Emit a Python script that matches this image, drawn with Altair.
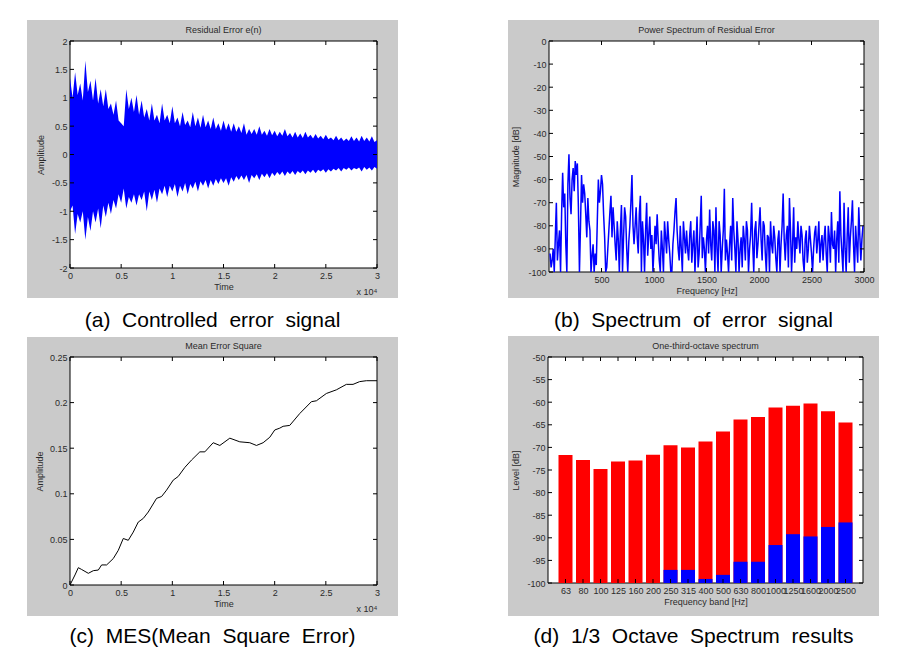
import json
import altair as alt
import pandas as pd

# ---------------- data ----------------
# (a) residual error e(n): spike envelope (every 500 samples) and the
#     dense core between spikes (at the midpoints)
sig_t = [0, 500, 1000, 1500, 2000, 2500, 3000, 3500, 4000, 4500,
         5000, 5500, 6000, 6500, 7000, 7500, 8000, 8500, 9000, 9500,
         10000, 10500, 11000, 11500, 12000, 12500, 13000, 13500, 14000, 14500,
         15000, 15500, 16000, 16500, 17000, 17500, 18000, 18500, 19000, 19500,
         20000, 20500, 21000, 21500, 22000, 22500, 23000, 23500, 24000, 24500,
         25000, 25500, 26000, 26500, 27000, 27500, 28000, 28500, 29000, 29500,
         30000]
sig_upper = [1.35, 1.45, 1.25, 1.65, 1.3, 1.35, 1.15, 1.15, 0.9, 0.95,
             0.55, 1.15, 1.0, 1.05, 0.95, 0.8, 0.9, 0.7, 0.9, 0.7,
             0.85, 0.65, 0.75, 0.6, 0.75, 0.65, 0.7, 0.6, 0.65, 0.55,
             0.6, 0.55, 0.55, 0.5, 0.55, 0.45, 0.45, 0.5, 0.42, 0.45,
             0.42, 0.4, 0.45, 0.38, 0.4, 0.37, 0.4, 0.35, 0.36, 0.33,
             0.35, 0.3, 0.33, 0.3, 0.28, 0.32, 0.3, 0.33, 0.3, 0.32,
             0.25]
sig_lower = [-1.0, -1.4, -1.2, -1.5, -1.35, -1.2, -1.3, -1.1, -1.05, -0.95,
             -0.85, -0.95, -0.85, -0.9, -0.8, -1.0, -0.8, -0.85, -0.7, -0.75,
             -0.65, -0.75, -0.65, -0.7, -0.6, -0.65, -0.55, -0.6, -0.55, -0.52,
             -0.5, -0.55, -0.48, -0.45, -0.45, -0.5, -0.42, -0.45, -0.4, -0.42,
             -0.38, -0.36, -0.38, -0.35, -0.36, -0.33, -0.35, -0.32, -0.33, -0.3,
             -0.32, -0.3, -0.28, -0.3, -0.27, -0.28, -0.26, -0.3, -0.27, -0.28,
             -0.25]
core_t = [250, 750, 1250, 1750, 2250, 2750, 3250, 3750, 4250, 4750,
          5250, 5750, 6250, 6750, 7250, 7750, 8250, 8750, 9250, 9750,
          10250, 10750, 11250, 11750, 12250, 12750, 13250, 13750, 14250, 14750,
          15250, 15750, 16250, 16750, 17250, 17750, 18250, 18750, 19250, 19750,
          20250, 20750, 21250, 21750, 22250, 22750, 23250, 23750, 24250, 24750,
          25250, 25750, 26250, 26750, 27250, 27750, 28250, 28750, 29250, 29750]
core_upper = [1.0, 1.05, 0.95, 1.1, 0.95, 0.9, 0.85, 0.8, 0.7, 0.6,
              0.5, 0.8, 0.75, 0.7, 0.65, 0.6, 0.6, 0.55, 0.6, 0.55,
              0.55, 0.5, 0.52, 0.48, 0.5, 0.47, 0.48, 0.45, 0.45, 0.42,
              0.43, 0.4, 0.4, 0.38, 0.35, 0.36, 0.35, 0.35, 0.33, 0.34,
              0.32, 0.33, 0.32, 0.3, 0.3, 0.29, 0.3, 0.28, 0.28, 0.27,
              0.27, 0.25, 0.25, 0.24, 0.24, 0.24, 0.23, 0.24, 0.23, 0.22]
core_lower = [-0.9, -1.05, -1.0, -1.1, -1.0, -0.95, -0.9, -0.85, -0.8, -0.7,
              -0.6, -0.75, -0.7, -0.7, -0.65, -0.65, -0.62, -0.6, -0.55, -0.55,
              -0.52, -0.55, -0.5, -0.52, -0.48, -0.47, -0.45, -0.45, -0.43, -0.42,
              -0.42, -0.4, -0.38, -0.37, -0.36, -0.36, -0.35, -0.34, -0.33, -0.32,
              -0.31, -0.3, -0.3, -0.29, -0.29, -0.28, -0.28, -0.27, -0.27, -0.26,
              -0.26, -0.25, -0.24, -0.24, -0.23, -0.24, -0.23, -0.22, -0.23, -0.22]

# (b) power spectrum of residual error (dB), read at 10 Hz steps
spec_freq = [10 + 20 * i for i in range(150)]
spec_db = [-92, -95, -100, -70, -88, -100, -57, -66, -100, -49,
           -75, -55, -52, -53, -100, -58, -62, -75, -68, -82,
           -93, -100, -97, -60, -65, -62, -85, -98, -82, -67,
           -72, -88, -78, -100, -71, -85, -76, -100, -80, -58,
           -88, -72, -92, -67, -78, -100, -70, -84, -90, -100,
           -80, -75, -95, -82, -100, -85, -78, -92, -100, -82,
           -68, -90, -80, -100, -85, -82, -95, -78, -88, -100,
           -76, -92, -67, -85, -100, -80, -73, -95, -82, -72,
           -100, -84, -90, -64, -86, -100, -80, -68, -90, -78,
           -100, -85, -80, -95, -82, -90, -70, -100, -78, -88,
           -72, -95, -80, -100, -85, -78, -92, -85, -100, -82,
           -88, -66, -95, -80, -68, -100, -72, -85, -78, -92,
           -84, -100, -82, -90, -86, -100, -83, -92, -78, -88,
           -95, -80, -100, -85, -74, -90, -100, -78, -65, -92,
           -70, -100, -72, -85, -69, -100, -88, -72, -95, -80]
spec_freq_mid = [20 + 20 * i for i in range(149)]
spec_db_mid = [-98, -90, -85, -95, -82, -75, -72, -88, -62, -68,
               -60, -65, -58, -72, -80, -70, -66, -85, -78, -100,
               -88, -92, -78, -70, -58, -75, -100, -90, -74, -85,
               -80, -95, -86, -82, -100, -72, -90, -87, -70, -80,
               -80, -85, -75, -100, -86, -82, -93, -76, -84, -90,
               -88, -86, -100, -90, -78, -92, -86, -100, -88, -74,
               -82, -95, -90, -78, -92, -90, -84, -96, -82, -88,
               -98, -80, -94, -90, -86, -92, -88, -78, -100, -90,
               -78, -100, -82, -95, -92, -88, -95, -82, -100, -86,
               -90, -98, -86, -78, -100, -84, -88, -82, -94, -80,
               -86, -78, -92, -84, -100, -88, -80, -94, -86, -100,
               -80, -86, -84, -98, -82, -88, -96, -90, -86, -80,
               -95, -86, -96, -80, -92, -90, -80, -86, -96, -84,
               -86, -92, -80, -96, -88, -82, -86, -96, -84, -100,
               -90, -84, -96, -78, -88, -80, -96, -84, -86]

# (c) mean error square
mse_t = [0, 488, 813, 1139, 1790, 2278, 2766, 3091, 3579, 4230, 4718, 5206,
         5694, 6182, 6670, 7158, 7646, 8460, 8948, 9436, 10087, 10575, 11226,
         11876, 12690, 13178, 13991, 14642, 15618, 16594, 17570, 18221, 18872,
         19523, 20011, 20499, 20824, 21475, 22451, 23590, 24078, 25054, 26030,
         27007, 27657, 28308, 28959, 30000]
mse_val = [0.0, 0.011, 0.019, 0.017, 0.0128, 0.0157, 0.0164, 0.022, 0.022,
           0.029, 0.038, 0.051, 0.049, 0.058, 0.069, 0.073, 0.080, 0.095, 0.097,
           0.104, 0.115, 0.119, 0.129, 0.137, 0.146, 0.146, 0.156, 0.153, 0.161,
           0.157, 0.156, 0.153, 0.156, 0.162, 0.170, 0.172, 0.174, 0.175, 0.188,
           0.201, 0.202, 0.210, 0.214, 0.220, 0.220, 0.223, 0.224, 0.224]

# (d) one-third-octave spectrum
bands = ["63", "80", "100", "125", "160", "200", "250", "315", "400", "500",
         "630", "800", "1000", "1250", "1600", "2000", "2500"]
red_level = [-71.7, -72.8, -74.8, -73.1, -72.9, -71.6, -69.5, -70.0, -68.7,
             -66.5, -63.8, -63.3, -61.2, -60.8, -60.3, -62.0, -64.5]
blue_level = [-100, -100, -100, -100, -100, -100, -97.1, -97.1, -99.1,
              -98.2, -95.3, -95.3, -91.6, -89.2, -89.7, -87.6, -86.6]

titles = ["Residual Error e(n)", "Power Spectrum of Residual Error",
          "Mean Error Square", "One-third-octave spectrum"]
captions = ["(a)\u00a0 Controlled\u00a0 error\u00a0 signal",
            "(b)\u00a0 Spectrum\u00a0 of\u00a0 error\u00a0 signal",
            "(c)\u00a0 MES(Mean\u00a0 Square\u00a0 Error)",
            "(d)\u00a0 1/3\u00a0 Octave\u00a0 Spectrum\u00a0 results"]

# ---------------- styling helpers ----------------
FONT = "Liberation Sans"
GREY = "#cacaca"
TXT = "#2a2a2a"


def axis(title, values, label_expr, title_pad):
    return alt.Axis(title=title, values=values, labelExpr=label_expr, tickSize=0,
                    domain=False, grid=False, labelFont=FONT, labelFontSize=9,
                    labelColor=TXT, titleFont=FONT, titleFontSize=9,
                    titleFontWeight="normal", titleColor=TXT, labelPadding=3,
                    titlePadding=title_pad, labelFlush=False, labelOverlap=False,
                    zindex=1)


def panel(W, H, ext, title, caption, cap_dy, xenc, yenc, xticks, yticks,
          data_layers, exponent=False):
    left, right, top, bottom = ext
    one = pd.DataFrame({"k": [0]})
    grey = alt.Chart(one).mark_rect(color=GREY).encode(
        x=alt.value(-left), x2=alt.value(W + right),
        y=alt.value(-top), y2=alt.value(H + bottom))
    box = alt.Chart(one).mark_rect(fill="white", stroke="black", strokeWidth=1).encode(
        x=alt.value(0), x2=alt.value(W), y=alt.value(0), y2=alt.value(H))
    xt = alt.Chart(pd.DataFrame({"x": xticks}))
    yt = alt.Chart(pd.DataFrame({"y": yticks}))
    rule = dict(color="black", strokeWidth=1)
    ticks = [
        xt.mark_rule(**rule).encode(x=xenc, y=alt.value(H), y2=alt.value(H - 4)),
        xt.mark_rule(**rule).encode(x=xenc, y=alt.value(0), y2=alt.value(4)),
        yt.mark_rule(**rule).encode(y=yenc, x=alt.value(0), x2=alt.value(4)),
        yt.mark_rule(**rule).encode(y=yenc, x=alt.value(W - 4), x2=alt.value(W)),
    ]
    ttl = alt.Chart(pd.DataFrame({"t": [title]})).mark_text(
        font=FONT, fontSize=9, color=TXT, baseline="middle").encode(
        text="t:N", x=alt.value(W / 2), y=alt.value(-11))
    cap = alt.Chart(pd.DataFrame({"t": [caption]})).mark_text(
        font=FONT, fontSize=21, color="black", baseline="alphabetic").encode(
        text="t:N", x=alt.value((W + right - left) / 2), y=alt.value(H + bottom + cap_dy))
    layers = [grey, box] + data_layers + ticks + [ttl, cap]
    if exponent:
        ex = alt.Chart(pd.DataFrame({"t": ["x 10\u2074"]})).mark_text(
            font=FONT, fontSize=9, color=TXT, baseline="middle").encode(
            text="t:N", x=alt.value(W - 10), y=alt.value(H + 24))
        layers.append(ex)
    return alt.layer(*layers).properties(width=W, height=H)


# ---------------- (a) ----------------
Wa, Ha = 307, 227
xa = alt.X("x:Q", scale=alt.Scale(domain=[0, 30000], nice=False, zero=False),
           axis=axis("Time", list(range(0, 30001, 5000)), "'' + datum.value / 10000", 2))
ya = alt.Y("y:Q", scale=alt.Scale(domain=[-2, 2], nice=False, zero=False),
           axis=axis("Amplitude", [-2, -1.5, -1, -0.5, 0, 0.5, 1, 1.5, 2], "'' + datum.value", 6))
df_a = pd.concat([
    pd.DataFrame({"x": sig_t, "y": sig_upper, "y2": sig_lower}),
    pd.DataFrame({"x": core_t, "y": core_upper, "y2": core_lower}),
]).sort_values("x")
area_a = alt.Chart(df_a).mark_area(color="#0000ff", clip=True).encode(
    x=xa, y=ya, y2=alt.Y2("y2:Q"))
pa = panel(Wa, Ha, (43, 21, 21, 30), titles[0], captions[0], 29, xa, ya,
           list(range(0, 30001, 5000)), [-2, -1.5, -1, -0.5, 0, 0.5, 1, 1.5, 2],
           [area_a], exponent=True)

# ---------------- (b) ----------------
Wb, Hb = 315, 231
xb = alt.X("x:Q", scale=alt.Scale(domain=[0, 3000], nice=False, zero=False),
           axis=axis("Frequency [Hz]", [500, 1000, 1500, 2000, 2500, 3000], "'' + datum.value", 2))
yb = alt.Y("y:Q", scale=alt.Scale(domain=[-100, 0], nice=False, zero=False),
           axis=axis("Magnitude [dB]", list(range(-100, 1, 10)), "'' + datum.value", 7))
df_b = pd.concat([
    pd.DataFrame({"x": spec_freq, "y": spec_db}),
    pd.DataFrame({"x": spec_freq_mid, "y": spec_db_mid}),
]).sort_values("x")
line_b = alt.Chart(df_b).mark_line(color="#0000ff", strokeWidth=1.5, clip=True).encode(
    x=xb, y=yb, order="x:Q")
pb = panel(Wb, Hb, (41, 15, 21, 26), titles[1], captions[1], 29, xb, yb,
           [500, 1000, 1500, 2000, 2500, 3000], list(range(-100, 1, 10)), [line_b])

# ---------------- (c) ----------------
Wc, Hc = 307, 228
xc = alt.X("x:Q", scale=alt.Scale(domain=[0, 30000], nice=False, zero=False),
           axis=axis("Time", list(range(0, 30001, 5000)), "'' + datum.value / 10000", 2))
yc = alt.Y("y:Q", scale=alt.Scale(domain=[0, 0.25], nice=False, zero=False),
           axis=axis("Amplitude", [0, 0.05, 0.1, 0.15, 0.2, 0.25], "'' + datum.value", 5))
df_c = pd.DataFrame({"x": mse_t, "y": mse_val})
line_c = alt.Chart(df_c).mark_line(color="black", strokeWidth=1, clip=True).encode(x=xc, y=yc)
pc = panel(Wc, Hc, (43, 21, 20, 31), titles[2], captions[2], 27, xc, yc,
           list(range(0, 30001, 5000)), [0, 0.05, 0.1, 0.15, 0.2, 0.25], [line_c],
           exponent=True)

# ---------------- (d) ----------------
Wd, Hd = 315, 226
pos = list(range(1, len(bands) + 1))
xd = alt.X("x:Q", scale=alt.Scale(domain=[0, 18], nice=False, zero=False),
           axis=axis("Frequency band [Hz]", pos, json.dumps(bands) + "[datum.value - 1]", 2))
yd = alt.Y("y:Q", scale=alt.Scale(domain=[-100, -50], nice=False, zero=False),
           axis=axis("Level [dB]", list(range(-100, -49, 5)), "'' + datum.value", 6))
df_red = pd.DataFrame({"x": [p - 0.4 for p in pos], "x2": [p + 0.4 for p in pos],
                       "y": red_level, "y2": [-100] * len(pos)})
df_blue = pd.DataFrame({"x": [p - 0.4 for p in pos], "x2": [p + 0.4 for p in pos],
                        "y": blue_level, "y2": [-100] * len(pos)})
red_bars = alt.Chart(df_red).mark_rect(color="#ff0000").encode(
    x=xd, x2=alt.X2("x2:Q"), y=yd, y2=alt.Y2("y2:Q"))
blue_bars = alt.Chart(df_blue).mark_rect(color="#0000ff").encode(
    x=xd, x2=alt.X2("x2:Q"), y=yd, y2=alt.Y2("y2:Q"))
pd_ = panel(Wd, Hd, (40, 16, 21, 33), titles[3], captions[3], 27, xd, yd,
            pos, list(range(-100, -49, 5)), [red_bars, blue_bars])

chart = alt.vconcat(
    alt.hconcat(pa, pb, spacing=110),
    alt.hconcat(pc, pd_, spacing=110),
    spacing=5,
).properties(
    padding={"left": 19, "top": 12, "right": 5, "bottom": 5},
    background="white",
).configure_view(stroke=None)

chart.save("out.html", embed_options={"renderer": "svg", "actions": False})
